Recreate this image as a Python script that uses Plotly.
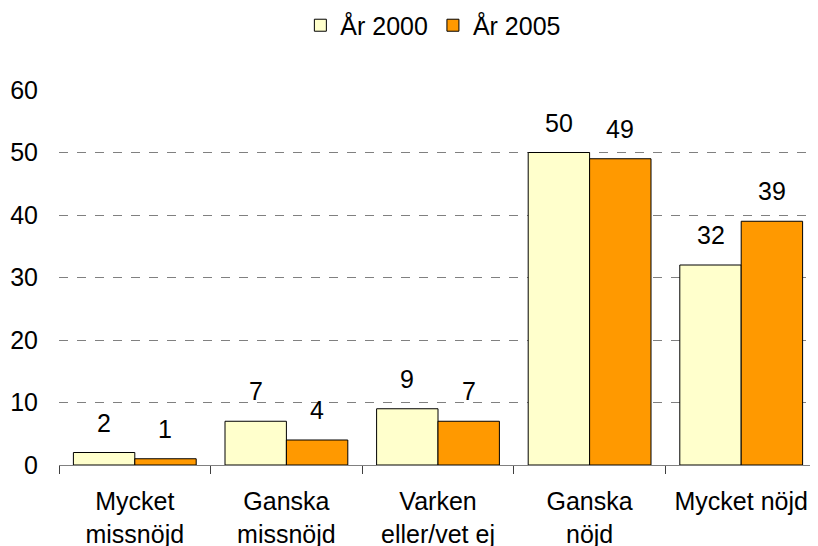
import plotly.graph_objects as go

categories = ["Mycket<br>missnöjd", "Ganska<br>missnöjd", "Varken<br>eller/vet ej", "Ganska<br>nöjd", "Mycket nöjd"]
series_names = ["År 2000", "År 2005"]
values_2000 = [2, 7, 9, 50, 32]
values_2005 = [1, 4, 7, 49, 39]
colors = ["#FFFFCC", "#FF9900"]
y_ticks = [0, 10, 20, 30, 40, 50, 60]

FONT = "Liberation Sans, Arial, sans-serif"
FS = 25

fig = go.Figure()
for name, vals, col in zip(series_names, [values_2000, values_2005], colors):
    fig.add_trace(go.Bar(
        name=name, x=categories, y=vals,
        marker=dict(color=col, line=dict(color="black", width=1)),
    ))

annotations = []
for i, vals in enumerate([values_2000, values_2005]):
    shift = -30.6 if i == 0 else 30.6
    for c, v in zip(categories, vals):
        annotations.append(dict(
            x=c, y=v, text=str(v), showarrow=False, xref="x", yref="y",
            xshift=shift, yanchor="bottom", yshift=14,
            font=dict(family=FONT, size=FS, color="black"),
        ))

fig.update_layout(
    width=818, height=546,
    margin=dict(l=51, r=9, t=82, b=89, autoexpand=False),
    paper_bgcolor="white", plot_bgcolor="white",
    barmode="group", bargap=0.19, bargroupgap=0,
    font=dict(family=FONT, size=FS, color="black"),
    legend=dict(orientation="h", xref="container", x=0.520, xanchor="center",
                yref="container", y=0.968, yanchor="middle",
                font=dict(size=FS), itemwidth=30, bgcolor="rgba(0,0,0,0)"),
    annotations=annotations,
    showlegend=True,
)
fig.update_xaxes(
    automargin=False,
    showline=True, linecolor="#808080", linewidth=1,
    ticks="outside", tickson="boundaries", ticklen=8, tickcolor="#404040",
    showgrid=False, tickfont=dict(size=FS), ticklabelstandoff=14,
)
fig.update_yaxes(
    automargin=False,
    range=[0, 60], tickvals=y_ticks, showgrid=True,
    gridcolor="#808080", griddash="dash", gridwidth=1,
    zeroline=False, showline=False, ticks="", ticklabelstandoff=20,
    tickfont=dict(size=FS),
)

fig.write_html("out.html")
